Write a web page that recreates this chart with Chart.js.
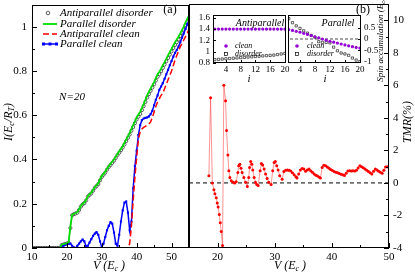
<!DOCTYPE html>
<html>
<head>
<meta charset="utf-8">
<script src="https://cdn.jsdelivr.net/npm/chart.js@4.4.1/dist/chart.umd.min.js"></script>
<style>
  html, body { margin: 0; padding: 0; background: #fff; }
  #wrap { position: relative; width: 415px; height: 275px; overflow: hidden; }
  #wrap canvas { position: absolute; left: 0; top: 0; }
</style>
</head>
<body>
<div id="wrap">
  <canvas id="chartB" width="415" height="275"></canvas>
  <canvas id="chartA" width="415" height="275"></canvas>
  <canvas id="insetAP" width="415" height="275"></canvas>
  <canvas id="insetP" width="415" height="275"></canvas>
</div>
<script>
const SERIF = '"Liberation Serif", "DejaVu Serif", serif';

// --- panel (a): current vs voltage ---
const voltage = [
  10, 10.5, 11, 11.5, 12, 12.5, 13, 13.5, 14, 14.5,
  15, 15.5, 16, 16.5, 17, 17.5, 18, 18.5, 19, 19.5,
  20, 20.5, 21, 21.5, 22, 22.5, 23, 23.5, 24, 24.5,
  25, 25.5, 26, 26.5, 27, 27.5, 28, 28.5, 29, 29.5,
  30, 30.5, 31, 31.5, 32, 32.5, 33, 33.5, 34, 34.5,
  35, 35.5, 36, 36.5, 37, 37.5, 38, 38.5, 39, 39.5,
  40, 40.5, 41, 41.5, 42, 42.5, 43, 43.5, 44, 44.5,
  45, 45.5, 46, 46.5, 47, 47.5, 48, 48.5, 49, 49.5,
  50, 50.5, 51, 51.5, 52, 52.5, 53, 53.5, 54, 54.5, 55
];
const antiparallelDisorder = [
  0, 0, 0, 0, 0, 0, 0, 0, 0, 0,
  0, 0, 0, 0, 0, 0, 0, 0.013, 0.016, 0.018,
  0.02, 0.023, 0.09, 0.148, 0.153, 0.156, 0.16, 0.172, 0.187, 0.197,
  0.203, 0.215, 0.232, 0.24, 0.247, 0.259, 0.272, 0.28, 0.289, 0.306,
  0.321, 0.331, 0.341, 0.354, 0.366, 0.375, 0.385, 0.395, 0.407, 0.42,
  0.431, 0.442, 0.454, 0.468, 0.483, 0.498, 0.513, 0.53, 0.547, 0.564,
  0.581, 0.594, 0.606, 0.623, 0.641, 0.66, 0.68, 0.695, 0.71, 0.725,
  0.74, 0.757, 0.774, 0.786, 0.799, 0.814, 0.829, 0.844, 0.859, 0.874,
  0.889, 0.904, 0.918, 0.93, 0.943, 0.958, 0.973, 0.988, 1.007, 1.022, 1.037
];
const parallelDisorder = [
  0, 0, 0, 0, 0, 0, 0, 0, 0, 0,
  0, 0, 0, 0, 0, 0, 0, 0.015, 0.018, 0.02,
  0.022, 0.025, 0.1, 0.15, 0.155, 0.158, 0.162, 0.175, 0.19, 0.2,
  0.205, 0.218, 0.235, 0.243, 0.25, 0.262, 0.275, 0.283, 0.292, 0.31,
  0.325, 0.335, 0.345, 0.358, 0.37, 0.38, 0.39, 0.4, 0.412, 0.425,
  0.437, 0.448, 0.46, 0.475, 0.49, 0.505, 0.52, 0.538, 0.555, 0.572,
  0.59, 0.603, 0.615, 0.632, 0.65, 0.67, 0.69, 0.705, 0.72, 0.735,
  0.75, 0.768, 0.785, 0.797, 0.81, 0.825, 0.84, 0.855, 0.87, 0.885,
  0.9, 0.915, 0.93, 0.942, 0.955, 0.97, 0.985, 1.0, 1.02, 1.035, 1.05
];
const antiparallelClean = [
  0, 0, 0, 0, 0, 0, 0, 0, 0, 0,
  0, 0, 0, 0, 0, 0, 0, 0, 0, 0,
  0, 0, 0, 0, 0, 0, 0, 0, 0, 0,
  0, 0, 0, 0, 0, 0, 0, 0, 0, 0,
  0, 0, 0, 0, 0, 0, 0, 0, 0, 0,
  0, 0, 0, 0, 0, 0, 0.02, 0.1, 0.215, 0.32,
  0.41, 0.49, 0.525, 0.538, 0.545, 0.55, 0.555, 0.56, 0.57, 0.59,
  0.615, 0.64, 0.66, 0.675, 0.69, 0.7, 0.72, 0.74, 0.76, 0.78,
  0.8, 0.825, 0.85, 0.87, 0.89, 0.91, 0.925, 0.94, 0.955, 0.97, 0.99
];
const parallelClean = [
  0, 0, 0, 0, 0, 0, 0, 0, 0, 0,
  0, 0, 0, 0, 0, 0, 0, 0.005, 0.01, 0.015,
  0.018, 0.02, 0.02, 0.01, 0.003, 0, 0.01, 0.02, 0.03, 0.038,
  0.03, 0.008, 0.01, 0.025, 0.04, 0.055, 0.065, 0.072, 0.06, 0.03,
  0.003, 0.02, 0.05, 0.08, 0.1, 0.117, 0.11, 0.07, 0.02, 0.01,
  0.06, 0.12, 0.17, 0.205, 0.21, 0.16, 0.08, 0.12, 0.27, 0.37,
  0.44, 0.51, 0.555, 0.578, 0.585, 0.588, 0.59, 0.595, 0.605, 0.62,
  0.645, 0.67, 0.69, 0.715, 0.73, 0.745, 0.765, 0.785, 0.805, 0.826,
  0.845, 0.865, 0.882, 0.895, 0.91, 0.93, 0.95, 0.97, 0.99, 1.01, 1.03
];
const xTicksA = [10, 20, 30, 40, 50];
const xMinorA = [15, 25, 35, 45, 55];
const yTicksA = [0, 0.2, 0.4, 0.6, 0.8, 1];
const yMinorA = [0.1, 0.3, 0.5, 0.7, 0.9];
const legendLabels = ['Antiparallel disorder', 'Parallel disorder', 'Antiparallel clean', 'Parallel clean'];

// --- panel (b): TMR vs voltage ---
const tmrVoltage = [
  18.48, 18.78, 19.08, 19.36, 19.53, 19.77, 19.94, 20.1, 20.3, 20.47, 20.64, 20.87,
  21.1, 21.4, 21.57, 21.8, 21.97, 22.15, 22.4, 22.74, 23.0, 23.26,
  23.55, 23.7, 23.9, 24.1, 24.3, 24.6, 24.9, 25.2,
  25.46, 25.6, 25.8, 26.0, 26.16, 26.4, 26.63, 26.86, 27.1,
  27.45, 27.67, 27.9, 28.15, 28.4, 28.67, 28.95, 29.37,
  29.65, 29.9, 30.1, 30.35, 30.6, 30.87, 31.3,
  31.6, 31.9, 32.2, 32.5, 32.8, 33.1, 33.4, 33.7, 33.9,
  34.2, 34.5, 34.8, 35.1, 35.4, 35.7, 36.0, 36.3, 36.6, 36.9, 37.2, 37.5, 37.8, 38.0,
  38.3, 38.6, 38.9, 39.2, 39.5, 39.8, 40.1, 40.4, 40.7, 41.0, 41.3, 41.6, 41.9, 42.2,
  42.5, 42.8, 43.1, 43.4, 43.7, 44.0, 44.3, 44.6, 44.9, 45.2, 45.5, 45.8, 46.1, 46.4, 46.7, 47.0,
  47.3, 47.6, 47.9, 48.2, 48.5, 48.8,
  49.1, 49.4, 49.7, 50.0
];
const tmrValue = [
  0.44, 5.23, 0, -0.42, -0.67, -0.91, -1.24, -1.48, -1.94, -2.45, -2.99, -3.84,
  6.0, 5.05, 3.23, 1.71, 0.75, 0.34, 0.14, 0.04, 0.0, 0.08,
  0.64, 1.05, 1.15, 0.91, 0.64, 0.34, 0.04, -0.22,
  0.34, 0.95, 1.31, 1.15, 0.79, 0.34, 0.04, -0.1, -0.16,
  0.75, 1.19, 1.11, 0.85, 0.55, 0.28, 0.04, -0.1,
  0.75, 1.25, 1.31, 1.05, 0.79, 0.44, 0.22,
  0.7, 0.78, 0.8, 0.78, 0.74, 0.62, 0.5, 0.38, 0.3,
  0.55, 0.8, 0.88, 0.85, 0.72, 0.8, 0.85, 0.75, 0.65, 0.55, 0.48, 0.42, 0.35, 0.3,
  0.95, 1.08, 1.05, 0.98, 0.9, 0.82, 0.76, 0.7, 0.66, 0.62, 0.58, 0.53, 0.5, 0.46,
  0.6, 0.74, 0.75, 0.74, 0.75, 0.74, 0.78, 0.92, 1.05, 1.0, 0.93, 0.86, 0.78, 0.7, 0.62, 0.55,
  0.72, 0.86, 0.8, 0.72, 0.66, 0.6,
  0.78, 0.98, 1.0, 0.95
];
const zeroLineX = [15, 50];
const zeroLineY = [0, 0];
const xTicksB = [20, 30, 40, 50];
const xMinorB = [15, 25, 35, 45];
const yTicksB = [-4, -2, 0, 2, 4, 6, 8, 10];
const yMinorB = [-3, -1, 1, 3, 5, 7, 9];

// --- insets: spin accumulation per site ---
const site = [1, 2, 3, 4, 5, 6, 7, 8, 9, 10, 11, 12, 13, 14, 15, 16, 17, 18, 19, 20];
const apCleanSpin = [1.4, 1.4, 1.4, 1.4, 1.4, 1.4, 1.4, 1.4, 1.4, 1.4, 1.4, 1.4, 1.4, 1.4, 1.4, 1.4, 1.4, 1.4, 1.4, 1.4];
const apDisorderSpin = [0.86, 0.865, 0.87, 0.875, 0.88, 0.885, 0.89, 0.895, 0.9, 0.905, 0.91, 0.915, 0.92, 0.925, 0.93, 0.935, 0.94, 0.95, 0.96, 0.97];
const pCleanSpin = [0.42, 0.38, 0.34, 0.3, 0.25, 0.2, 0.15, 0.1, 0.05, 0.0, -0.05, -0.1, -0.14, -0.18, -0.22, -0.26, -0.3, -0.34, -0.37, -0.4];
const pDisorderSpin = [0.9, 0.72, 0.58, 0.47, 0.36, 0.26, 0.16, 0.08, -0.12, -0.15, -0.15, -0.17, -0.36, -0.52, -0.62, -0.66, -0.72, -0.84, -0.93, -1.0];
const insetZeroX = [0, 21];
const insetXTicks = [4, 8, 12, 16, 20];
const apSpinTicks = [0.8, 1, 1.2, 1.4, 1.6];
const pSpinTicks = [-1, -0.5, 0, 0.5];

const PURPLE = '#9400d3';

function pts(xs, ys) {
  return xs.map((x, i) => ({ x: x, y: ys[i] }));
}

function fixedAxis(pos, min, max, tickVals, size, fontSize, pad) {
  const vertical = pos === 'left' || pos === 'right';
  return {
    type: 'linear', position: pos, min: min, max: max,
    grid: { display: false, drawTicks: false },
    border: { display: false },
    afterBuildTicks: s => { s.ticks = tickVals.map(v => ({ value: v })); },
    afterFit: s => {
      if (vertical) { s.width = size; s.paddingTop = 0; s.paddingBottom = 0; }
      else { s.height = size; s.paddingLeft = 0; s.paddingRight = 0; }
    },
    ticks: {
      color: '#000', font: { family: SERIF, size: fontSize }, padding: pad,
      autoSkip: false, maxRotation: 0, callback: v => String(v)
    }
  };
}

// frame + inward ticks, optional white fill under the plot area
function frameTicks(cfg) {
  return {
    id: 'frameTicks',
    beforeDraw(chart) {
      if (!cfg.fill) return;
      const a = chart.chartArea, ctx = chart.ctx;
      ctx.save();
      ctx.fillStyle = '#fff';
      ctx.fillRect(a.left, a.top, a.width, a.height);
      ctx.restore();
    },
    afterDraw(chart) {
      const { ctx, chartArea: a } = chart;
      const xs = chart.scales.x, ys = chart.scales.y;
      ctx.save();
      ctx.strokeStyle = '#000';
      ctx.lineWidth = cfg.lw || 1;
      ctx.strokeRect(Math.round(a.left) + 0.5, Math.round(a.top) + 0.5, Math.round(a.width) - 1, Math.round(a.height) - 1);
      ctx.beginPath();
      const xt = (vals, len) => vals.forEach(v => {
        const px = Math.round(xs.getPixelForValue(v)) + 0.5;
        ctx.moveTo(px, a.bottom); ctx.lineTo(px, a.bottom - len);
      });
      const yt = (vals, len) => vals.forEach(v => {
        const py = Math.round(ys.getPixelForValue(v)) + 0.5;
        if (cfg.side === 'right') { ctx.moveTo(a.right, py); ctx.lineTo(a.right - len, py); }
        else { ctx.moveTo(a.left, py); ctx.lineTo(a.left + len, py); }
      });
      xt(cfg.xMajor || [], cfg.major); xt(cfg.xMinor || [], cfg.minor);
      yt(cfg.yMajor || [], cfg.major); yt(cfg.yMinor || [], cfg.minor);
      ctx.stroke();
      ctx.restore();
    }
  };
}

function overlay(drawFn) {
  return { id: 'overlay', afterDraw(chart) { chart.ctx.save(); drawFn(chart.ctx, chart); chart.ctx.restore(); } };
}

// parts: [text, size, dy]
function rich(ctx, parts, x, y, align, rot, italic) {
  const f = p => (italic === false ? '' : 'italic ') + p[1] + 'px ' + SERIF;
  ctx.save();
  ctx.translate(x, y);
  if (rot) ctx.rotate(rot);
  let w = 0;
  parts.forEach(p => { ctx.font = f(p); w += ctx.measureText(p[0]).width; });
  let cx = align === 'center' ? -w / 2 : 0;
  ctx.fillStyle = '#000';
  ctx.textBaseline = 'middle';
  ctx.textAlign = 'left';
  parts.forEach(p => {
    ctx.font = f(p);
    ctx.fillText(p[0], cx, p[2] || 0);
    cx += ctx.measureText(p[0]).width;
  });
  ctx.restore();
}

function squareMark(ctx, x, y, r, fill) {
  ctx.fillStyle = fill;
  ctx.fillRect(x - r, y - r, 2 * r, 2 * r);
  ctx.strokeStyle = '#000';
  ctx.lineWidth = 0.7;
  ctx.strokeRect(x - r, y - r, 2 * r, 2 * r);
}

// ---------- panel (a) ----------
new Chart(document.getElementById('chartA'), {
  type: 'scatter',
  data: {
    datasets: [
      { data: pts(voltage, antiparallelClean), showLine: true, borderColor: '#ff0000', borderWidth: 1.5,
        borderDash: [6, 3], pointRadius: 0, order: 0 },
      { data: pts(voltage, parallelDisorder), showLine: true, borderColor: '#00dd00', borderWidth: 1.8,
        pointRadius: 0, order: 1 },
      { data: pts(voltage, parallelClean), showLine: true, borderColor: '#0000ff', borderWidth: 1.5,
        pointStyle: 'rect', pointRadius: 1.5, pointBackgroundColor: '#0000ff', pointBorderColor: '#0000ff',
        pointBorderWidth: 0, order: 2 },
      { data: pts(voltage, antiparallelDisorder), showLine: true, borderColor: '#000', borderWidth: 0.6,
        pointRadius: 1.6, pointBackgroundColor: '#fff', pointBorderColor: '#000', pointBorderWidth: 0.6, order: 3 }
    ]
  },
  options: {
    responsive: false, animation: false, devicePixelRatio: 1, events: [],
    layout: { padding: { left: 0, top: 1, right: 226, bottom: 0 } },
    plugins: { legend: { display: false }, tooltip: { enabled: false } },
    scales: {
      x: fixedAxis('bottom', 10, 55, xTicksA, 27, 11, 3),
      y: fixedAxis('left', 0, 1.1, yTicksA, 32, 11, 5)
    }
  },
  plugins: [
    frameTicks({ xMajor: xTicksA, xMinor: xMinorA, yMajor: yTicksA, yMinor: yMinorA, major: 5, minor: 3, side: 'left' }),
    overlay(ctx => {
      // legend
      const rows = [13, 24, 34, 44];
      ctx.lineWidth = 0.6; ctx.strokeStyle = '#000'; ctx.fillStyle = '#fff';
      ctx.beginPath(); ctx.arc(48, rows[0], 1.8, 0, Math.PI * 2); ctx.fill(); ctx.stroke();
      ctx.lineWidth = 1.8; ctx.strokeStyle = '#00dd00';
      ctx.beginPath(); ctx.moveTo(43, rows[1]); ctx.lineTo(57, rows[1]); ctx.stroke();
      ctx.lineWidth = 1.5; ctx.strokeStyle = '#ff0000'; ctx.setLineDash([6, 3]);
      ctx.beginPath(); ctx.moveTo(43, rows[2]); ctx.lineTo(57, rows[2]); ctx.stroke();
      ctx.setLineDash([]); ctx.strokeStyle = '#0000ff';
      ctx.beginPath(); ctx.moveTo(43, rows[3]); ctx.lineTo(57, rows[3]); ctx.stroke();
      ctx.fillStyle = '#0000ff';
      [43.5, 50, 56.5].forEach(x => ctx.fillRect(x - 1.5, rows[3] - 1.5, 3, 3));
      legendLabels.forEach((t, i) => rich(ctx, [[t, 11]], 60, rows[i], 'left'));
      rich(ctx, [['N=20', 11]], 72, 97, 'center');
      rich(ctx, [['(a)', 12]], 170, 10, 'center', 0, false);
      rich(ctx, [['V (E', 12], ['c', 8, 3], [' )', 12]], 109, 266, 'center');
      rich(ctx, [['I(E', 12], ['c', 8, 3], ['/R', 12], ['T', 8, 3], [')', 12]], 9, 122, 'center', -Math.PI / 2);
    })
  ]
});

// ---------- panel (b) ----------
new Chart(document.getElementById('chartB'), {
  type: 'scatter',
  data: {
    datasets: [
      { data: pts(tmrVoltage, tmrValue), showLine: true, borderColor: 'rgba(255,60,60,0.55)', borderWidth: 1,
        pointRadius: 1.5, pointBackgroundColor: '#ff0000', pointBorderColor: '#ff0000', pointBorderWidth: 0, order: 0 },
      { data: pts(zeroLineX, zeroLineY), showLine: true, borderColor: '#000', borderWidth: 1,
        borderDash: [4, 3], pointRadius: 0, order: 1 }
    ]
  },
  options: {
    responsive: false, animation: false, devicePixelRatio: 1, events: [],
    layout: { padding: { left: 189, top: 1, right: 0, bottom: 0 } },
    plugins: { legend: { display: false }, tooltip: { enabled: false } },
    scales: {
      x: fixedAxis('bottom', 15, 50, xTicksB, 27, 11, 3),
      y: fixedAxis('right', -4, 11, yTicksB, 26, 11, 4)
    }
  },
  plugins: [
    frameTicks({ xMajor: xTicksB, xMinor: xMinorB, yMajor: yTicksB, yMinor: yMinorB, major: 5, minor: 3, side: 'right' }),
    overlay(ctx => {
      rich(ctx, [['(b)', 12]], 363, 10, 'center', 0, false);
      rich(ctx, [['V (E', 12], ['c', 8, 3], [' )', 12]], 290, 266, 'center');
      rich(ctx, [['TMR(%)', 12]], 408, 122, 'center', -Math.PI / 2);
    })
  ]
});

// ---------- inset: antiparallel ----------
new Chart(document.getElementById('insetAP'), {
  type: 'scatter',
  data: {
    datasets: [
      { data: pts(site, apCleanSpin), pointRadius: 1.6, pointBackgroundColor: PURPLE, pointBorderColor: PURPLE, pointBorderWidth: 0 },
      { data: pts(site, apDisorderSpin), pointStyle: 'rect', pointRadius: 1.6, pointBackgroundColor: '#fff',
        pointBorderColor: '#000', pointBorderWidth: 0.6 }
    ]
  },
  options: {
    responsive: false, animation: false, devicePixelRatio: 1, events: [],
    layout: { padding: { left: 190, top: 15, right: 129, bottom: 200 } },
    plugins: { legend: { display: false }, tooltip: { enabled: false } },
    scales: {
      x: fixedAxis('bottom', 0.5, 20.3, insetXTicks, 12, 9, 1),
      y: fixedAxis('left', 0.8, 1.65, apSpinTicks, 23, 9, 3)
    }
  },
  plugins: [
    frameTicks({ fill: true, xMajor: insetXTicks, yMajor: apSpinTicks, major: 3, minor: 2, side: 'left' }),
    overlay(ctx => {
      rich(ctx, [['Antiparallel', 10]], 260, 23, 'center');
      ctx.fillStyle = PURPLE;
      ctx.beginPath(); ctx.arc(226, 46, 1.8, 0, Math.PI * 2); ctx.fill();
      squareMark(ctx, 226, 54, 1.6, '#fff');
      rich(ctx, [['clean', 8]], 235, 46, 'left');
      rich(ctx, [['disorder', 8]], 235, 54, 'left');
      rich(ctx, [['i', 11]], 249, 79, 'center');
    })
  ]
});

// ---------- inset: parallel ----------
new Chart(document.getElementById('insetP'), {
  type: 'scatter',
  data: {
    datasets: [
      { data: pts(site, pCleanSpin), pointRadius: 1.6, pointBackgroundColor: PURPLE, pointBorderColor: PURPLE, pointBorderWidth: 0, order: 0 },
      { data: pts(site, pDisorderSpin), pointStyle: 'rect', pointRadius: 1.6, pointBackgroundColor: '#fff',
        pointBorderColor: '#000', pointBorderWidth: 0.6, order: 1 },
      { data: pts(insetZeroX, [0, 0]), showLine: true, borderColor: '#000', borderWidth: 0.7,
        borderDash: [3, 2], pointRadius: 0, order: 2 }
    ]
  },
  options: {
    responsive: false, animation: false, devicePixelRatio: 1, events: [],
    layout: { padding: { left: 288, top: 15, right: 28, bottom: 200 } },
    plugins: { legend: { display: false }, tooltip: { enabled: false } },
    scales: {
      x: fixedAxis('bottom', 0.8, 20.3, insetXTicks, 12, 9, 1),
      y: fixedAxis('right', -1.06, 1.06, pSpinTicks, 26, 9, 3)
    }
  },
  plugins: [
    frameTicks({ fill: true, xMajor: insetXTicks, yMajor: pSpinTicks, major: 3, minor: 2, side: 'right' }),
    overlay(ctx => {
      rich(ctx, [['Parallel', 10]], 338, 23, 'center');
      ctx.fillStyle = PURPLE;
      ctx.beginPath(); ctx.arc(297, 46, 1.8, 0, Math.PI * 2); ctx.fill();
      squareMark(ctx, 297, 54, 1.6, '#fff');
      rich(ctx, [['clean', 8]], 307, 46, 'left');
      rich(ctx, [['disorder', 8]], 307, 54, 'left');
      rich(ctx, [['i', 11]], 325, 79, 'center');
      rich(ctx, [['Spin accumulation (E', 9], ['c', 6, 2], [')', 9]], 381, 40, 'center', -Math.PI / 2);
    })
  ]
});
</script>
</body>
</html>
